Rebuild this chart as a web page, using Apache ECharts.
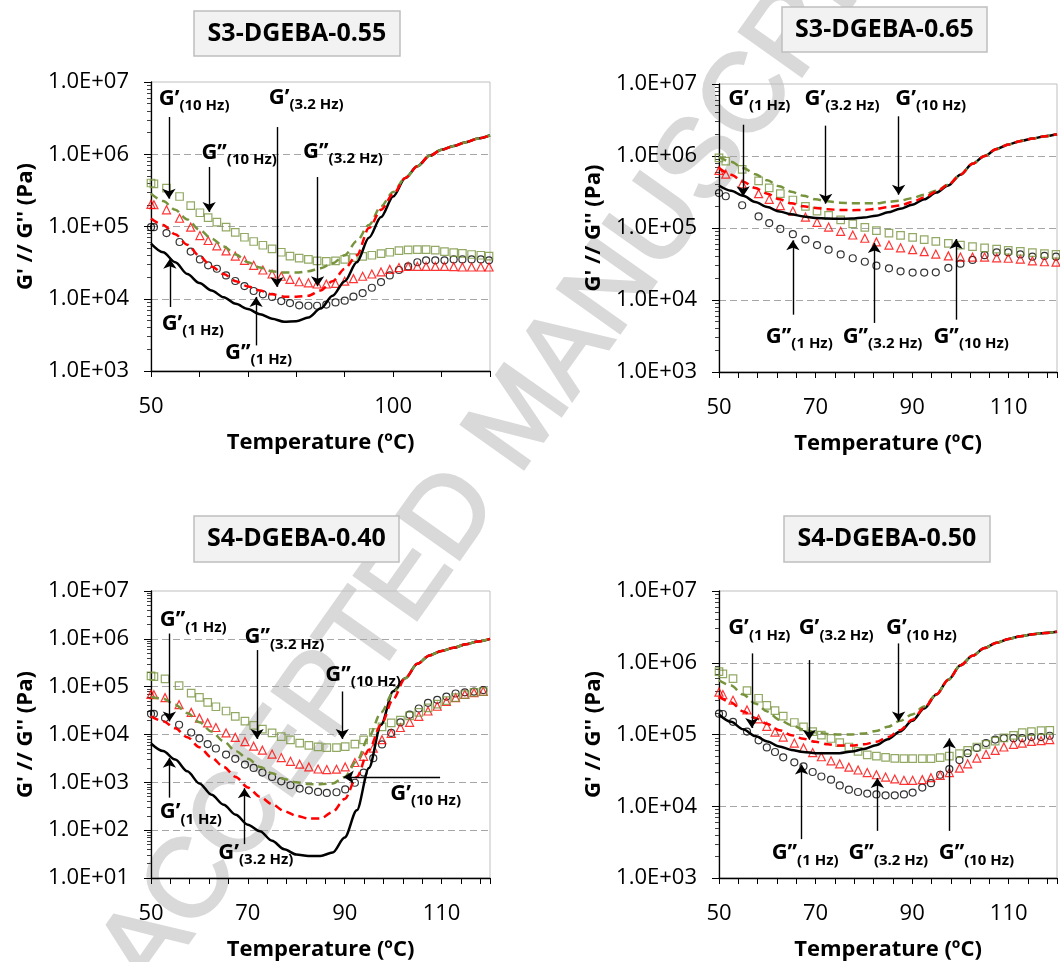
<!DOCTYPE html>
<html>
<head>
<meta charset="utf-8">
<script src="https://cdn.jsdelivr.net/npm/echarts@6/dist/echarts.min.js"></script>
<style>
  html, body { margin: 0; background: #fff; }
  #chart { width: 1060px; height: 962px; }
</style>
</head>
<body>
<div id="chart"></div>
<script>
// Temperatures for the G' curves (same grid in all four panels)
const T_LINE = [50, 52.5, 55, 57.5, 60, 62.5, 65, 67.5, 70, 72.5, 75, 77.5, 80, 82.5, 85, 87.5, 90, 92.5, 95, 97.5, 100, 102.5, 105, 107.5, 110, 112.5, 115, 117.5, 120];

// ---- S3-DGEBA-0.55 ----
const p1Gp1  = [5.8e4, 4.4e4, 3.2e4, 2.2e4, 1.65e4, 1.3e4, 1.05e4, 8.5e3, 7.2e3, 6.1e3, 5.3e3, 4.8e3, 4.9e3, 5.5e3, 7.3e3, 1.1e4, 1.75e4, 3.2e4, 7.0e4, 1.35e5, 2.6e5, 4.7e5, 6.8e5, 9.5e5, 1.15e6, 1.3e6, 1.47e6, 1.65e6, 1.83e6];
const p1Gp32 = [1.29e5, 1.05e5, 7.8e4, 5.6e4, 3.9e4, 2.8e4, 2.2e4, 1.75e4, 1.48e4, 1.3e4, 1.15e4, 1.07e4, 1.07e4, 1.1e4, 1.3e4, 1.75e4, 2.6e4, 4.0e4, 9.5e4, 1.7e5, 2.8e5, 4.7e5, 6.8e5, 9.5e5, 1.15e6, 1.3e6, 1.47e6, 1.65e6, 1.83e6];
const p1Gp10 = [2.85e5, 2.25e5, 1.7e5, 1.25e5, 9.0e4, 6.8e4, 5.3e4, 4.1e4, 3.2e4, 2.7e4, 2.4e4, 2.3e4, 2.3e4, 2.4e4, 2.65e4, 3.1e4, 4.0e4, 6.3e4, 1.05e5, 1.9e5, 3.0e5, 4.7e5, 6.8e5, 9.5e5, 1.15e6, 1.3e6, 1.47e6, 1.65e6, 1.83e6];
const p1T    = [50, 50.6, 53.2, 55.9, 58.2, 60.1, 61.8, 63.6, 65.5, 67.4, 69.3, 71.2, 73.1, 75, 76.9, 78.7, 80.6, 82.5, 84.3, 86.2, 88.1, 90, 91.8, 93.7, 95.6, 97.5, 99.3, 101.2, 103.1, 105, 106.8, 108.7, 110.6, 112.5, 114.3, 116.2, 118.1, 119.8];
const p1Gpp1  = [9.8e4, 9.8e4, 8.1e4, 6.1e4, 4.5e4, 3.5e4, 2.9e4, 2.6e4, 2.1e4, 1.76e4, 1.5e4, 1.28e4, 1.15e4, 1.06e4, 9.3e3, 8.7e3, 8.1e3, 8.0e3, 8.0e3, 8.3e3, 8.9e3, 9.4e3, 1.07e4, 1.2e4, 1.42e4, 1.7e4, 2.1e4, 2.5e4, 2.8e4, 3.2e4, 3.4e4, 3.4e4, 3.4e4, 3.5e4, 3.5e4, 3.5e4, 3.5e4, 3.4e4];
const p1Gpp32 = [2.03e5, 2.0e5, 1.7e5, 1.3e5, 9.8e4, 7.5e4, 6.4e4, 5.4e4, 4.6e4, 3.9e4, 3.4e4, 2.9e4, 2.5e4, 2.2e4, 2.05e4, 1.85e4, 1.72e4, 1.66e4, 1.6e4, 1.6e4, 1.63e4, 1.75e4, 1.9e4, 2.05e4, 2.2e4, 2.35e4, 2.55e4, 2.7e4, 2.8e4, 2.8e4, 2.8e4, 2.8e4, 2.8e4, 2.78e4, 2.75e4, 2.75e4, 2.75e4, 2.75e4];
const p1Gpp10 = [4.0e5, 3.9e5, 3.4e5, 2.6e5, 1.95e5, 1.55e5, 1.33e5, 1.15e5, 9.8e4, 8.3e4, 7.1e4, 6.2e4, 5.5e4, 4.9e4, 4.4e4, 3.9e4, 3.65e4, 3.5e4, 3.35e4, 3.3e4, 3.35e4, 3.5e4, 3.7e4, 3.85e4, 4.0e4, 4.2e4, 4.4e4, 4.65e4, 4.75e4, 4.8e4, 4.8e4, 4.7e4, 4.5e4, 4.35e4, 4.25e4, 4.1e4, 4.0e4, 3.9e4];

// ---- S3-DGEBA-0.65 ----
const p2Gp1  = [3.9e5, 3.3e5, 2.8e5, 2.3e5, 1.95e5, 1.7e5, 1.55e5, 1.45e5, 1.38e5, 1.35e5, 1.34e5, 1.35e5, 1.4e5, 1.48e5, 1.65e5, 1.85e5, 2.1e5, 2.5e5, 3.1e5, 3.9e5, 5.5e5, 7.8e5, 1.0e6, 1.25e6, 1.45e6, 1.62e6, 1.75e6, 1.88e6, 2.0e6];
const p2Gp32 = [6.8e5, 5.5e5, 4.4e5, 3.6e5, 3.0e5, 2.5e5, 2.2e5, 2.0e5, 1.9e5, 1.82e5, 1.78e5, 1.77e5, 1.78e5, 1.85e5, 1.95e5, 2.05e5, 2.3e5, 2.65e5, 3.2e5, 4.0e5, 5.5e5, 7.8e5, 1.0e6, 1.25e6, 1.45e6, 1.62e6, 1.75e6, 1.88e6, 2.0e6];
const p2Gp10 = [9.7e5, 8.3e5, 6.8e5, 5.6e5, 4.6e5, 3.8e5, 3.2e5, 2.8e5, 2.5e5, 2.35e5, 2.25e5, 2.2e5, 2.2e5, 2.2e5, 2.3e5, 2.4e5, 2.6e5, 2.9e5, 3.3e5, 4.0e5, 5.5e5, 7.8e5, 1.0e6, 1.25e6, 1.45e6, 1.62e6, 1.75e6, 1.88e6, 2.0e6];
const p2T    = [50, 51.4, 54.8, 58.2, 60.4, 62.7, 65.3, 67.9, 70.3, 72.7, 75.2, 77.7, 80.2, 82.6, 85.2, 87.6, 90.1, 92.5, 94.9, 97.5, 100, 102.5, 105, 107.5, 109.9, 112.4, 114.9, 117.4, 119.8];
const p2Gpp1  = [3.06e5, 2.76e5, 2.07e5, 1.45e5, 1.17e5, 9.7e4, 8.2e4, 6.9e4, 5.8e4, 5.0e4, 4.3e4, 3.8e4, 3.4e4, 3.0e4, 2.75e4, 2.5e4, 2.4e4, 2.4e4, 2.42e4, 2.8e4, 3.2e4, 3.6e4, 4.2e4, 4.6e4, 4.6e4, 4.3e4, 4.0e4, 4.1e4, 4.0e4];
const p2Gpp32 = [6.3e5, 5.6e5, 4.1e5, 3.0e5, 2.5e5, 2.05e5, 1.72e5, 1.42e5, 1.2e5, 1.03e5, 9.0e4, 8.0e4, 7.2e4, 6.4e4, 5.8e4, 5.3e4, 5.0e4, 4.7e4, 4.35e4, 4.1e4, 3.95e4, 3.95e4, 3.95e4, 3.85e4, 3.8e4, 3.7e4, 3.5e4, 3.4e4, 3.35e4];
const p2Gpp10 = [9.4e5, 8.5e5, 6.5e5, 4.5e5, 3.6e5, 3.0e5, 2.45e5, 2.0e5, 1.72e5, 1.5e5, 1.3e5, 1.14e5, 1.02e5, 9.2e4, 8.5e4, 7.9e4, 7.4e4, 6.9e4, 6.5e4, 6.1e4, 5.8e4, 5.5e4, 5.3e4, 5.1e4, 4.9e4, 4.75e4, 4.55e4, 4.4e4, 4.3e4];

// ---- S4-DGEBA-0.40 ----
const p3Gp1  = [6.5e3, 4.5e3, 3.0e3, 1.7e3, 9.5e2, 5.5e2, 3.4e2, 2.1e2, 1.3e2, 9.5e1, 6.0e1, 4.0e1, 3.1e1, 2.9e1, 2.9e1, 3.4e1, 7.0e1, 2.6e2, 2.0e3, 1.6e4, 8.0e4, 1.5e5, 3.0e5, 4.5e5, 5.6e5, 6.5e5, 7.7e5, 8.8e5, 1.0e6];
const p3Gp32 = [2.4e4, 1.9e4, 1.35e4, 8.8e3, 5.4e3, 3.3e3, 2.1e3, 1.3e3, 7.8e2, 5.0e2, 3.5e2, 2.5e2, 2.0e2, 1.75e2, 1.75e2, 2.4e2, 4.5e2, 1.3e3, 4.8e3, 1.6e4, 5.5e4, 1.5e5, 3.0e5, 4.5e5, 5.6e5, 6.5e5, 7.7e5, 8.8e5, 1.0e6];
const p3Gp10 = [6.1e4, 5.6e4, 4.2e4, 2.8e4, 1.8e4, 1.15e4, 7.2e3, 4.5e3, 3.1e3, 2.1e3, 1.55e3, 1.17e3, 1.0e3, 9.2e2, 9.1e2, 9.5e2, 1.3e3, 2.8e3, 9.0e3, 2.9e4, 7.5e4, 1.5e5, 3.0e5, 4.5e5, 5.6e5, 6.5e5, 7.7e5, 8.8e5, 1.0e6];
const p3T    = [50, 50.6, 52.9, 55.8, 58.3, 60, 61.7, 63.4, 65.5, 67.4, 69.4, 71.2, 73, 75, 76.9, 78.8, 80.7, 82.6, 84.5, 86.3, 88.3, 90.1, 92.1, 93.9, 95.9, 97.7, 99.6, 101.5, 103.4, 105.3, 107.2, 109.1, 111, 112.9, 114.8, 116.7, 118.6];
const p3Gpp1  = [2.7e4, 2.7e4, 2.2e4, 1.6e4, 1.1e4, 8.3e3, 6.3e3, 5.1e3, 3.8e3, 3.1e3, 2.35e3, 2.0e3, 1.6e3, 1.3e3, 1.05e3, 8.7e2, 7.4e2, 6.8e2, 6.3e2, 6.0e2, 6.2e2, 7.1e2, 9.8e2, 1.6e3, 3.2e3, 6.2e3, 1.08e4, 1.8e4, 2.6e4, 3.5e4, 4.6e4, 5.3e4, 6.2e4, 7.2e4, 7.6e4, 7.9e4, 8.5e4];
const p3Gpp32 = [6.9e4, 6.8e4, 5.9e4, 4.2e4, 2.9e4, 2.2e4, 1.75e4, 1.4e4, 1.08e4, 8.7e3, 7.1e3, 5.7e3, 4.7e3, 3.9e3, 3.3e3, 2.75e3, 2.4e3, 2.1e3, 1.9e3, 1.85e3, 1.88e3, 2.1e3, 2.6e3, 3.5e3, 5.2e3, 7.8e3, 1.05e4, 1.4e4, 1.8e4, 2.4e4, 3.1e4, 3.9e4, 4.9e4, 5.9e4, 6.9e4, 7.5e4, 8.0e4];
const p3Gpp10 = [1.68e5, 1.62e5, 1.45e5, 1.05e5, 7.3e4, 6.0e4, 4.7e4, 3.8e4, 3.1e4, 2.4e4, 1.9e4, 1.55e4, 1.3e4, 1.08e4, 9.0e3, 7.7e3, 6.6e3, 5.9e3, 5.5e3, 5.3e3, 5.3e3, 5.6e3, 6.3e3, 7.7e3, 1.1e4, 1.45e4, 1.75e4, 2.0e4, 2.45e4, 2.9e4, 3.6e4, 4.3e4, 5.1e4, 5.9e4, 6.8e4, 7.6e4, 7.9e4];

// ---- S4-DGEBA-0.50 ----
const p4Gp1  = [1.9e5, 1.5e5, 1.18e5, 9.5e4, 8.0e4, 6.8e4, 6.1e4, 5.7e4, 5.5e4, 5.5e4, 5.5e4, 5.8e4, 6.3e4, 7.1e4, 8.6e4, 1.1e5, 1.55e5, 2.3e5, 3.6e5, 5.8e5, 9.2e5, 1.25e6, 1.6e6, 1.9e6, 2.15e6, 2.35e6, 2.5e6, 2.6e6, 2.7e6];
const p4Gp32 = [3.4e5, 2.8e5, 2.1e5, 1.7e5, 1.4e5, 1.15e5, 9.8e4, 8.7e4, 7.9e4, 7.3e4, 7.0e4, 7.0e4, 7.3e4, 7.9e4, 9.2e4, 1.15e5, 1.6e5, 2.35e5, 3.6e5, 5.8e5, 9.2e5, 1.25e6, 1.6e6, 1.9e6, 2.15e6, 2.35e6, 2.5e6, 2.6e6, 2.7e6];
const p4Gp10 = [5.7e5, 4.8e5, 3.6e5, 2.7e5, 2.1e5, 1.6e5, 1.35e5, 1.17e5, 1.07e5, 1.02e5, 1.0e5, 1.0e5, 1.03e5, 1.12e5, 1.28e5, 1.55e5, 1.9e5, 2.45e5, 3.6e5, 5.8e5, 9.2e5, 1.25e6, 1.6e6, 1.9e6, 2.15e6, 2.35e6, 2.5e6, 2.6e6, 2.7e6];
const p4T    = [50, 50.8, 52.9, 55.8, 58.2, 59.9, 61.6, 63.3, 65.6, 67.5, 69.4, 71.2, 73.2, 75, 76.9, 78.8, 80.7, 82.6, 84.5, 86.4, 88.3, 90.1, 92.1, 93.9, 95.8, 97.7, 99.8, 101.5, 103.4, 105.3, 107.2, 109, 111, 112.8, 114.7, 116.7, 118.5];
const p4Gpp1  = [1.95e5, 1.93e5, 1.5e5, 1.1e5, 8.3e4, 6.6e4, 5.7e4, 4.8e4, 4.1e4, 3.6e4, 3.0e4, 2.6e4, 2.35e4, 1.95e4, 1.7e4, 1.58e4, 1.5e4, 1.46e4, 1.42e4, 1.42e4, 1.46e4, 1.55e4, 1.82e4, 2.1e4, 2.75e4, 3.3e4, 4.4e4, 5.5e4, 6.5e4, 7.6e4, 8.5e4, 8.9e4, 8.9e4, 8.9e4, 9.2e4, 9.2e4, 9.6e4];
const p4Gpp32 = [3.9e5, 3.6e5, 3.0e5, 2.2e5, 1.65e5, 1.3e5, 1.08e5, 9.2e4, 7.6e4, 6.5e4, 5.6e4, 4.9e4, 4.3e4, 3.9e4, 3.5e4, 3.2e4, 2.95e4, 2.75e4, 2.55e4, 2.4e4, 2.3e4, 2.3e4, 2.35e4, 2.5e4, 2.7e4, 2.95e4, 3.4e4, 3.9e4, 4.7e4, 5.3e4, 6.0e4, 6.7e4, 7.3e4, 7.6e4, 8.0e4, 8.2e4, 8.5e4];
const p4Gpp10 = [7.5e5, 7.0e5, 6.0e5, 4.1e5, 3.2e5, 2.55e5, 2.15e5, 1.8e5, 1.47e5, 1.28e5, 1.1e5, 9.8e4, 8.8e4, 7.7e4, 6.7e4, 5.8e4, 5.2e4, 5.0e4, 4.8e4, 4.65e4, 4.6e4, 4.6e4, 4.6e4, 4.6e4, 4.75e4, 5.0e4, 5.4e4, 6.0e4, 6.7e4, 7.3e4, 8.1e4, 9.0e4, 9.7e4, 1.06e5, 1.1e5, 1.13e5, 1.14e5];

// Arrow callouts, in data coordinates: label spot, arrow start, arrow end
const notes1 = [
  { g: "G’",  sub: "(10 Hz)",  at: [51.5, 5.87e6], from: [53.7, 3.28e6], to: [53.7, 2.43e5] },
  { g: "G’’", sub: "(10 Hz)",  at: [60.3, 1.06e6], from: [62.0, 6.67e5], to: [62.0, 1.59e5] },
  { g: "G’",  sub: "(3.2 Hz)", at: [74.2, 6.14e6], from: [76.0, 2.38e6], to: [76.0, 1.46e4] },
  { g: "G’’", sub: "(3.2 Hz)", at: [81.3, 1.10e6], from: [84.4, 4.84e5], to: [84.4, 1.49e4] },
  { g: "G’",  sub: "(1 Hz)",   at: [52.1, 4.52e3], from: [53.9, 7.69e3], to: [53.9, 3.59e4] },
  { g: "G’’", sub: "(1 Hz)",   at: [65.2, 1.79e3], from: [71.7, 2.26e3], to: [71.7, 1.06e4] },
];
const notes2 = [
  { g: "G’",  sub: "(1 Hz)",   at: [51.8, 6.32e6], from: [55.0, 2.72e6], to: [55.0, 2.75e5] },
  { g: "G’",  sub: "(3.2 Hz)", at: [67.6, 6.32e6], from: [72.1, 2.64e6], to: [72.1, 2.18e5] },
  { g: "G’",  sub: "(10 Hz)",  at: [86.4, 6.32e6], from: [87.2, 3.56e6], to: [87.2, 2.90e5] },
  { g: "G’’", sub: "(1 Hz)",   at: [59.6, 3.13e3], from: [65.3, 6.25e3], to: [65.3, 6.74e4] },
  { g: "G’’", sub: "(3.2 Hz)", at: [75.5, 3.13e3], from: [82.2, 4.80e3], to: [82.2, 6.19e4] },
  { g: "G’’", sub: "(10 Hz)",  at: [94.3, 3.13e3], from: [99.1, 5.33e3], to: [99.1, 7.03e4] },
];
const notes3 = [
  { g: "G’’", sub: "(1 Hz)",   at: [51.7, 2.45e6], from: [53.8, 1.29e6], to: [53.8, 1.88e4] },
  { g: "G’’", sub: "(3.2 Hz)", at: [69.2, 1.10e6], from: [71.9, 5.83e5], to: [71.9, 8.07e3] },
  { g: "G’’", sub: "(10 Hz)",  at: [85.9, 1.79e5], from: [89.5, 7.93e4], to: [89.5, 8.07e3] },
  { g: "G’",  sub: "(1 Hz)",   at: [51.7, 2.41e2], from: [53.8, 4.79e2], to: [53.8, 3.25e3] },
  { g: "G’",  sub: "(3.2 Hz)", at: [63.8, 3.43e1], from: [69.3, 5.12e1], to: [69.3, 7.55e2] },
  { g: "G’",  sub: "(10 Hz)",  at: [99.3, 5.89e2], from: [109.7, 1.29e3], to: [89.8, 1.29e3] },
];
const notes4 = [
  { g: "G’",  sub: "(1 Hz)",   at: [51.8, 3.03e6], from: [56.8, 1.35e6], to: [56.8, 1.23e5] },
  { g: "G’",  sub: "(3.2 Hz)", at: [66.4, 3.03e6], from: [68.7, 1.09e6], to: [68.7, 8.47e4] },
  { g: "G’",  sub: "(10 Hz)",  at: [84.5, 3.03e6], from: [87.2, 1.86e6], to: [87.2, 1.52e5] },
  { g: "G’’", sub: "(1 Hz)",   at: [60.8, 2.22e3], from: [67.1, 3.48e3], to: [67.1, 3.81e4] },
  { g: "G’’", sub: "(3.2 Hz)", at: [76.7, 2.22e3], from: [82.8, 4.54e3], to: [82.8, 2.48e4] },
  { g: "G’’", sub: "(10 Hz)",  at: [95.4, 2.22e3], from: [97.7, 4.54e3], to: [97.7, 8.83e4] },
];

const FONT = "'Open Sans', Lato, sans-serif";
const GREEN = "#77933c";
const RED = "#ff0000";
const BLACK = "#000000";

const panels = [
  { title: "S3-DGEBA-0.55", box: [194, 11, 206, 45], grid: [151, 82, 339, 289], yMin: 1e3, xStep: 10, xShown: [50, 100],
    T: p1T, gpp: [p1Gpp1, p1Gpp32, p1Gpp10], gp: [p1Gp1, p1Gp32, p1Gp10], notes: notes1 },
  { title: "S3-DGEBA-0.65", box: [782, 7, 205, 45], grid: [719, 84, 339, 288], yMin: 1e3, xStep: 4, xShown: [50, 70, 90, 110],
    T: p2T, gpp: [p2Gpp1, p2Gpp32, p2Gpp10], gp: [p2Gp1, p2Gp32, p2Gp10], notes: notes2 },
  { title: "S4-DGEBA-0.40", box: [194, 516, 205, 46], grid: [151, 591, 339, 288], yMin: 1e1, xStep: 4, xShown: [50, 70, 90, 110],
    T: p3T, gpp: [p3Gpp1, p3Gpp32, p3Gpp10], gp: [p3Gp1, p3Gp32, p3Gp10], notes: notes3 },
  { title: "S4-DGEBA-0.50", box: [784, 516, 206, 46], grid: [719, 591, 339, 288], yMin: 1e3, xStep: 4, xShown: [50, 70, 90, 110],
    T: p4T, gpp: [p4Gpp1, p4Gpp32, p4Gpp10], gp: [p4Gp1, p4Gp32, p4Gp10], notes: notes4 },
];

// "1.0E+05" style labels
function expLabel(v) {
  const e = Math.round(Math.log10(v));
  return "1.0E+" + String(e).padStart(2, "0");
}

// 2..9 x 10^n minor ticks of a log axis
function minorTicks(min, max) {
  const out = [];
  for (let e = Math.round(Math.log10(min)); e < Math.round(Math.log10(max)); e++) {
    for (let k = 2; k <= 9; k++) out.push(k * Math.pow(10, e));
  }
  return out;
}

const zip = (xs, ys) => xs.map((x, i) => [x, ys[i]]);

const grids = [];
const xAxes = [];
const yAxes = [];
const series = [];

panels.forEach((p, i) => {
  grids.push({
    left: p.grid[0], top: p.grid[1], width: p.grid[2], height: p.grid[3],
    show: true, borderColor: "#bfbfbf", borderWidth: 1, backgroundColor: "transparent",
  });

  xAxes.push({
    type: "value", gridIndex: i, min: 50, max: 120, interval: p.xStep,
    name: "Temperature (ºC)", nameLocation: "middle", nameGap: 61,
    nameTextStyle: { fontFamily: FONT, fontWeight: "bold", fontSize: 22, color: BLACK },
    axisLine: { onZero: false, lineStyle: { color: BLACK, width: 1.3 } },
    axisTick: { inside: false, length: 6, lineStyle: { color: BLACK } },
    axisLabel: {
      fontFamily: FONT, fontSize: 22, color: BLACK, margin: 25,
      formatter: (v) => (p.xShown.includes(v) ? String(v) : ""),
    },
    splitLine: { show: false },
  });

  yAxes.push({
    type: "log", logBase: 10, gridIndex: i, min: p.yMin, max: 1e7,
    name: "G' // G'' (Pa)", nameLocation: "middle", nameGap: 114,
    nameTextStyle: { fontFamily: FONT, fontWeight: "bold", fontSize: 22, color: BLACK },
    axisLine: { show: true, onZero: false, lineStyle: { color: BLACK, width: 1.3 } },
    axisTick: { show: true, inside: false, length: 7, lineStyle: { color: BLACK } },
    axisLabel: { fontFamily: FONT, fontSize: 22, color: BLACK, margin: 22, formatter: expLabel },
    splitLine: { show: true, showMinLine: false, showMaxLine: false, lineStyle: { color: "#a6a6a6", type: [7, 4], width: 1 } },
  });
  // second axis on the same spot, only for the minor ticks
  yAxes.push({
    type: "log", logBase: 10, gridIndex: i, min: p.yMin, max: 1e7, position: "left",
    axisLine: { show: false },
    axisTick: { show: true, inside: false, length: 4, customValues: minorTicks(p.yMin, 1e7), lineStyle: { color: "#404040" } },
    axisLabel: { show: false },
    splitLine: { show: false },
  });

  const yi = 2 * i;
  const marker = (data, symbol, size, color) => ({
    type: "scatter", xAxisIndex: i, yAxisIndex: yi, data, symbol, symbolSize: size, z: 2, silent: true,
    itemStyle: { color: "rgba(0,0,0,0)", borderColor: color, borderWidth: 1.2 },
  });
  series.push(marker(zip(p.T, p.gpp[0]), "circle", 7, BLACK));
  series.push(marker(zip(p.T, p.gpp[1]), "triangle", 8, RED));
  series.push(marker(zip(p.T, p.gpp[2]), "rect", 7.5, GREEN));

  const curve = (data, color, type, extra) => Object.assign({
    type: "line", xAxisIndex: i, yAxisIndex: yi, data, showSymbol: false, symbol: "none",
    smooth: 0.3, smoothMonotone: "x", z: 3, silent: true,
    lineStyle: { color, width: 2.5, type },
  }, extra || {});

  series.push(curve(zip(T_LINE, p.gp[0]), BLACK, "solid", {
    markLine: {
      silent: true, animation: false, symbol: ["none", "arrow"], symbolSize: 10,
      lineStyle: { color: BLACK, width: 1.4, type: "solid" },
      label: { show: false },
      data: p.notes.map((n) => [{ coord: n.from }, { coord: n.to }]),
    },
    markPoint: {
      silent: true, animation: false, symbol: "circle", symbolSize: 1,
      itemStyle: { color: "rgba(0,0,0,0)" },
      label: {
        show: true, position: "right", distance: 0, color: BLACK,
        rich: {
          g: { fontFamily: FONT, fontSize: 22, fontWeight: "bold", color: BLACK, lineHeight: 30, verticalAlign: "middle" },
          s: { fontFamily: FONT, fontSize: 15, fontWeight: "bold", color: BLACK, lineHeight: 16, verticalAlign: "bottom" },
        },
      },
      data: p.notes.map((n) => ({ coord: n.at, label: { formatter: "{g|" + n.g + "}{s|" + n.sub + "}" } })),
    },
  }));
  series.push(curve(zip(T_LINE, p.gp[2]), GREEN, [8, 5]));
  series.push(curve(zip(T_LINE, p.gp[1]), RED, [8, 5]));
});

const graphics = [
  {
    type: "text", x: 522, y: 418, rotation: (54.7 * Math.PI) / 180, z: -10, silent: true,
    style: {
      text: "ACCEPTED MANUSCRIPT", font: "111px 'Liberation Sans'", fill: "#d9d9d9",
      stroke: "#d9d9d9", lineWidth: 3, align: "center", verticalAlign: "middle",
    },
  },
];
panels.forEach((p) => {
  graphics.push({
    type: "rect", silent: true,
    shape: { x: p.box[0], y: p.box[1], width: p.box[2], height: p.box[3] },
    style: { fill: "#f2f2f2", stroke: "#bfbfbf", lineWidth: 1.5 },
  });
  graphics.push({
    type: "text", silent: true,
    style: {
      x: p.box[0] + p.box[2] / 2, y: p.box[1] + p.box[3] / 2, text: p.title,
      font: "bold 25px " + FONT, fill: BLACK, align: "center", verticalAlign: "middle",
    },
  });
});

const chart = echarts.init(document.getElementById("chart"));
chart.setOption({
  animation: false,
  backgroundColor: "#ffffff",
  grid: grids,
  xAxis: xAxes,
  yAxis: yAxes,
  series,
  graphic: graphics,
});
</script>
</body>
</html>
